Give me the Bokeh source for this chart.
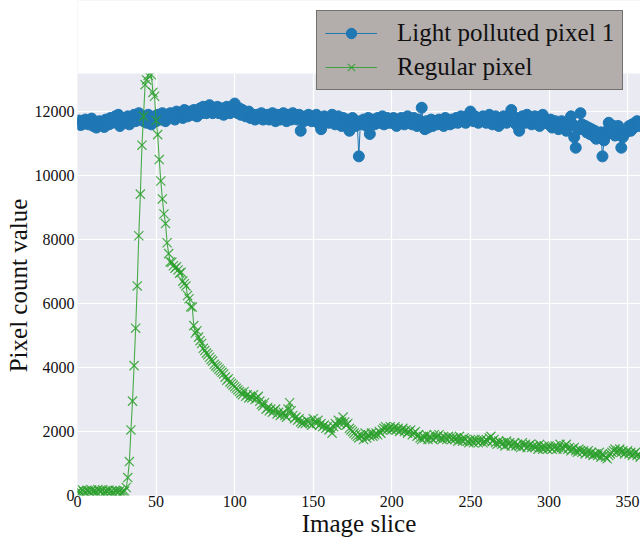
from bokeh.plotting import figure
from bokeh.models import FixedTicker, Legend, BoxAnnotation
from bokeh.embed import file_html
from bokeh.resources import INLINE

# ---------------- data ----------------
light_polluted_pixel_1 = [
    11650, 11720, 11580, 11700, 11620, 11750, 11680, 11600, 11720, 11780,
    11550, 11650, 11500, 11600, 11700, 11580, 11650, 11520, 11750, 11700,
    11600, 11800, 11650, 11750, 11850, 11700, 11900, 11550, 11750, 11800,
    11650, 11700, 11850, 11600, 11750, 11800, 11900, 11700, 11850, 11950,
    11750, 11800, 11700, 11850, 11650, 11900, 11750, 11600, 11800, 11850,
    11700, 11900, 11800, 11750, 11950, 11850, 11700, 11900, 11800, 11950,
    11850, 11900, 11750, 12000, 11850, 11950, 11900, 11800, 12050, 11900,
    11850, 12000, 11950, 11900, 12050, 11950, 11850, 12000, 12100, 11950,
    12150, 12000, 11950, 12100, 12200, 12050, 11950, 12100, 12000, 12150,
    11950, 12050, 12100, 11900, 12000, 12150, 12000, 11950, 12100, 12050,
    12250, 12000, 11950, 12100, 11900, 12050, 12000, 11850, 11950, 12000,
    11800, 11900, 11850, 11750, 11900, 11800, 11850, 11950, 11750, 11850,
    11800, 11900, 11750, 11850, 11950, 11800, 11700, 11900, 11850, 11750,
    11850, 11950, 11800, 11700, 11900, 11850, 11750, 11950, 11800, 11850,
    11750, 11900, 11400, 11800, 11700, 11850, 11750, 11900, 11800, 11700,
    11850, 11750, 11900, 11650, 11800, 11450, 11750, 11850, 11700, 11800,
    11650, 11800, 11900, 11700, 11600, 11750, 11850, 11650, 11550, 11800,
    11700, 11600, 11750, 11400, 11650, 11800, 11700, 11550, 11650, 10600,
    11700, 11600, 11750, 11650, 11550, 11800, 11300, 11650, 11750, 11600,
    11700, 11800, 11650, 11750, 11850, 11600, 11700, 11800, 11650, 11750,
    11650, 11800, 11700, 11550, 11750, 11650, 11800, 11700, 11600, 11750,
    11850, 11650, 11750, 11600, 11800, 11700, 11550, 11750, 11650, 12120,
    11600, 11450, 11700, 11500, 11650, 11750, 11550, 11700, 11650, 11600,
    11750, 11650, 11700, 11550, 11800, 11650, 11700, 11600, 11750, 11650,
    11700, 11800, 11650, 11750, 11850, 11700, 11800, 11650, 11750, 11900,
    12000, 11800, 11700, 11850, 11750, 11650, 11800, 11700, 11850, 11750,
    11650, 11800, 11900, 11700, 11600, 11750, 11850, 11700, 11550, 11800,
    11700, 11850, 11750, 11650, 11800, 11900, 12050, 11750, 11650, 11800,
    11550, 11400, 11700, 11850, 11750, 11650, 11900, 11800, 11700, 11600,
    11750, 11850, 11650, 11700, 11550, 11750, 11900, 11800, 11650, 11700,
    11600, 11750, 11500, 11650, 11700, 11550, 11450, 11600, 11700, 11500,
    11650, 11400, 11550, 11700, 11850, 11600, 11200, 10870, 11500, 11450,
    11950, 11600, 11450, 11550, 11350, 11500, 11300, 11450, 11250, 11400,
    11150, 11300, 11200, 11350, 10600, 11100, 11250, 11400, 11650, 11500,
    11350, 11550, 11250, 11400, 11550, 11300, 10870, 11200, 11400, 11350,
    11450, 11550, 11400, 11600, 11500, 11650, 11700, 11550, 11600,
]

regular_pixel = [
    120, 150, 100, 180, 130, 90, 160, 140, 110, 170,
    130, 150, 100, 190, 140, 120, 180, 100, 150, 130,
    170, 110, 140, 90, 160, 130, 100, 150, 80, 120,
    140, 250, 560, 1060, 2050, 2950, 4060, 5230, 6550, 8120,
    9420, 10950, 11850, 12840, 12990, 13130, 13350, 13150, 12600, 12480,
    11720, 11280, 10500, 9830, 9270, 8800, 8500, 7900, 7560, 7300,
    7290, 7180, 7100, 7150, 7050, 6950, 6980, 6700, 6620, 6550,
    6250, 6150, 5900, 5890, 5310, 5080, 5150, 4950, 4840, 4750,
    4600, 4530, 4450, 4400, 4320, 4250, 4200, 4100, 4050, 4010,
    3950, 3900, 3850, 3800, 3700, 3600, 3650, 3550, 3500, 3450,
    3400, 3350, 3300, 3250, 3200, 3150, 3250, 3100, 3150, 3050,
    3100, 3050, 3150, 3000, 3050, 3100, 2950, 2850, 2800, 2900,
    2700, 2750, 2650, 2700, 2600, 2650, 2700, 2550, 2600, 2500,
    2550, 2600, 2500, 2450, 2700, 2900, 2650, 2500, 2400, 2450,
    2350, 2400, 2300, 2250, 2300, 2250, 2350, 2300, 2250, 2200,
    2400, 2300, 2250, 2350, 2200, 2250, 2150, 2200, 2100, 2150,
    2050, 2100, 1950, 2150, 2250, 2200, 2350, 2250, 2300, 2450,
    2300, 2200, 2250, 2100, 2050, 2000, 1950, 1900, 1850, 1800,
    1900, 1850, 1750, 1950, 1800, 1900, 1850, 1950, 1850, 1900,
    1950, 1900, 2000, 1950, 2050, 2100, 2150, 2050, 2100, 2150,
    2050, 2100, 2150, 2050, 2100, 2000, 2050, 2100, 2000, 2050,
    1950, 2000, 2050, 1900, 1950, 2000, 1850, 1900, 1800, 1750,
    1850, 1800, 1900, 1750, 1850, 1800, 1750, 1900, 1800, 1850,
    1900, 1800, 1750, 1850, 1800, 1750, 1850, 1800, 1750, 1800,
    1750, 1800, 1700, 1850, 1750, 1700, 1800, 1750, 1700, 1650,
    1750, 1700, 1650, 1750, 1700, 1650, 1700, 1750, 1650, 1700,
    1750, 1700, 1800, 1850, 1700, 1750, 1650, 1600, 1700, 1650,
    1600, 1650, 1550, 1700, 1600, 1650, 1550, 1600, 1650, 1550,
    1600, 1550, 1500, 1650, 1550, 1600, 1500, 1550, 1600, 1500,
    1550, 1500, 1550, 1450, 1600, 1500, 1450, 1550, 1500, 1450,
    1550, 1500, 1450, 1500, 1550, 1450, 1500, 1600, 1500, 1450,
    1550, 1600, 1450, 1500, 1400, 1450, 1500, 1400, 1350, 1450,
    1400, 1350, 1400, 1300, 1350, 1400, 1300, 1350, 1250, 1300,
    1300, 1250, 1350, 1200, 1300, 1250, 1200, 1150, 1250, 1300,
    1350, 1400, 1450, 1350, 1400, 1450, 1350, 1400, 1300, 1350,
    1400, 1300, 1350, 1250, 1300, 1350, 1250, 1300, 1200,
]

slices = list(range(len(light_polluted_pixel_1)))
x_ticks = [0, 50, 100, 150, 200, 250, 300, 350]
y_ticks = [0, 2000, 4000, 6000, 8000, 10000, 12000]

FONT = "Liberation Serif"
BLUE = "#1f77b4"
GREEN = "#2ca02c"
TXT = "#111111"

X_END = 358.2          # visible x limit (plot continues past the right edge)
Y_TOP = 13190          # visible top of the data area
FRAME_H = 495          # frame spans the canvas from its top edge down to the x axis
DATA_H = 422           # pixel height of the visible data area
Y_END = Y_TOP * FRAME_H / DATA_H   # range extended upward so the legend can sit above the data area

p = figure(width=640, height=539, output_backend="svg", toolbar_location=None,
           x_range=(0, X_END), y_range=(0, Y_END),
           min_border_left=77, min_border_right=0, min_border_top=0,
           min_border_bottom=44)

p.background_fill_color = "#eaeaf2"
p.border_fill_color = "white"
p.outline_line_color = None

for ax in (p.xaxis[0], p.yaxis[0]):
    ax.axis_line_color = None
    ax.major_tick_line_color = None
    ax.minor_tick_line_color = None
    ax.major_tick_out = 0
    ax.major_tick_in = 0
    ax.minor_tick_out = 0
    ax.minor_tick_in = 0
    ax.major_label_text_font = FONT
    ax.major_label_text_font_size = "16px"
    ax.major_label_text_color = TXT
    ax.axis_label_text_font = FONT
    ax.axis_label_text_font_size = "25px"
    ax.axis_label_text_font_style = "normal"
    ax.axis_label_text_color = TXT

p.xaxis.ticker = FixedTicker(ticks=x_ticks)
p.yaxis.ticker = FixedTicker(ticks=y_ticks)
p.xaxis.axis_label = "Image slice"
# trailing no-break spaces shift the title down to the centre of the visible data area
p.yaxis.axis_label = "Pixel count value" + "\u00a0" * 12
p.xaxis.major_label_standoff = 0
p.xaxis.axis_label_standoff = 0
p.yaxis.major_label_standoff = 3
p.yaxis.axis_label_standoff = 0

p.grid.grid_line_color = "white"
p.grid.grid_line_width = 1.2

l1 = p.line(slices, light_polluted_pixel_1, line_color=BLUE, line_width=1)
s1 = p.scatter(slices, light_polluted_pixel_1, marker="circle", size=11,
               fill_color=BLUE, line_color=BLUE)
l2 = p.line(slices, regular_pixel, line_color=GREEN, line_width=1.1, line_alpha=0.85)
s2 = p.scatter(slices, regular_pixel, marker="x", size=13, line_color=GREEN,
               line_width=1.2, line_alpha=0.85)

# white margin above the data area
p.add_layout(BoxAnnotation(bottom=Y_TOP, fill_color="white", fill_alpha=1.0,
                           line_color=None))

legend = Legend(items=[("Light polluted pixel 1", [l1, s1]),
                       ("Regular pixel", [l2, s2])],
                location=(239, 405))
legend.label_text_font = FONT
legend.label_text_font_size = "25px"
legend.label_text_color = TXT
legend.label_height = 26
legend.label_standoff = 20
legend.glyph_width = 52
legend.glyph_height = 26
legend.spacing = 6
legend.padding = 8
legend.margin = 0
legend.background_fill_color = "#b3adac"
legend.background_fill_alpha = 1.0
legend.border_line_color = "#333333"
legend.border_line_width = 1
p.add_layout(legend, "center")

open("out.html", "w").write(file_html(p, INLINE))
